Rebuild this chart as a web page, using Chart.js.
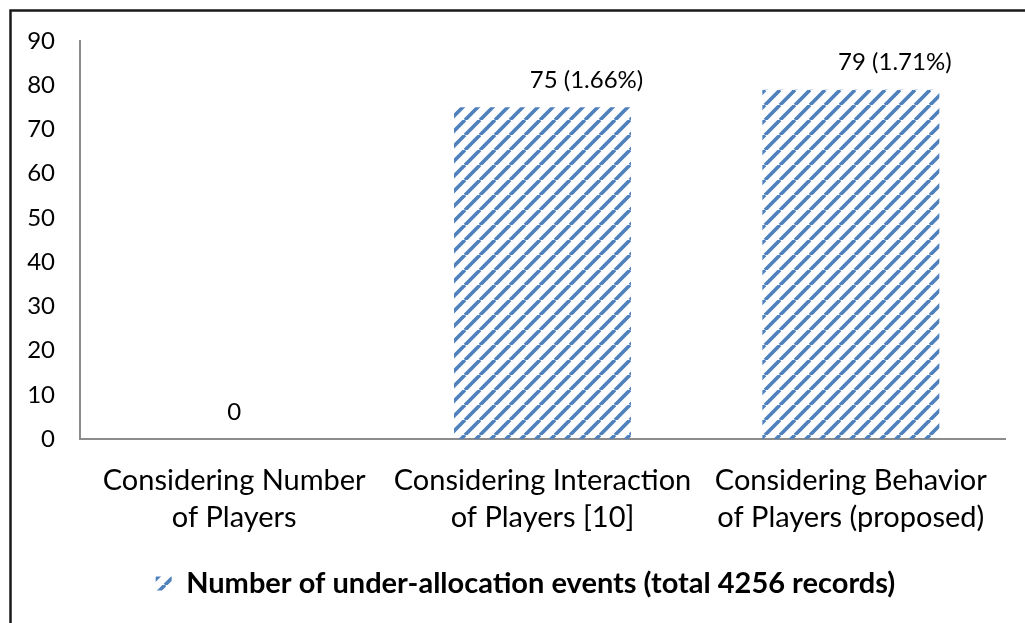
<!DOCTYPE html>
<html>
<head>
<meta charset="utf-8">
<script src="https://cdn.jsdelivr.net/npm/chart.js@4.4.1/dist/chart.umd.min.js"></script>
<style>
  html, body { margin: 0; padding: 0; background: #ffffff; overflow: hidden; }
  canvas { display: block; }
</style>
</head>
<body>
<canvas id="chart" width="1025" height="623"></canvas>
<script>
// Categories (two-line axis labels)
const categories = [
  ["Considering Number", "of Players"],
  ["Considering Interaction", "of Players [10]"],
  ["Considering Behavior", "of Players (proposed)"]
];
// Under-allocation event counts per approach
const eventCounts = [0, 75, 79];
// Share of all records, in percent (none shown for a zero count)
const eventShares = [null, 1.66, 1.71];
const seriesName = "Number of under-allocation events (total 4256 records)";
// Value axis range
const yMin = 0;
const yMax = 90;
const yStep = 10;

const FONT = "Lato, 'Open Sans', sans-serif";
const BAR_BLUE = "#4F81BD";

// Diagonal hatch fill for the bars
function makeHatch(color) {
  const s = 15;
  const tile = document.createElement("canvas");
  tile.width = s; tile.height = s;
  const g = tile.getContext("2d");
  g.strokeStyle = color;
  g.lineWidth = 3.7;
  g.beginPath();
  for (let k = -1; k <= 1; k++) {
    g.moveTo(k * s, s);
    g.lineTo(k * s + s, 0);
  }
  g.stroke();
  return g.createPattern(tile, "repeat");
}

// Thin dark frame along the top and left edges
const framePlugin = {
  id: "frame",
  beforeDraw(chart) {
    const ctx = chart.ctx;
    ctx.save();
    ctx.strokeStyle = "#1a1a1a";
    ctx.lineWidth = 2.5;
    ctx.beginPath();
    ctx.moveTo(10.5, chart.height);
    ctx.lineTo(10.5, 10.5);
    ctx.lineTo(chart.width, 10.5);
    ctx.stroke();
    ctx.restore();
  }
};

// Value labels above each bar
const valueLabels = {
  id: "valueLabels",
  afterDatasetsDraw(chart) {
    const ctx = chart.ctx;
    const meta = chart.getDatasetMeta(0);
    ctx.save();
    ctx.font = "24px " + FONT;
    ctx.fillStyle = "#000";
    ctx.textAlign = "center";
    ctx.textBaseline = "middle";
    meta.data.forEach((bar, i) => {
      const v = eventCounts[i];
      const share = eventShares[i];
      const text = share == null ? String(v) : v + " (" + share.toFixed(2) + "%)";
      const dx = share == null ? 0 : 44;
      ctx.fillText(text, bar.x + dx, bar.y - 27);
    });
    ctx.restore();
  }
};

// Nudge the legend to the right
const legendShift = {
  id: "legendShift",
  afterLayout(chart) {
    if (chart.legend) {
      chart.legend.left += 23;
      chart.legend.right += 23;
    }
  }
};

const ctx = document.getElementById("chart").getContext("2d");
new Chart(ctx, {
  type: "bar",
  data: {
    labels: categories,
    datasets: [{
      label: seriesName,
      data: eventCounts,
      backgroundColor: makeHatch(BAR_BLUE),
      borderWidth: 0,
      barPercentage: 0.574,
      categoryPercentage: 1.0
    }]
  },
  options: {
    responsive: false,
    animation: false,
    devicePixelRatio: 1,
    layout: { padding: { left: 0, right: 20, top: 41, bottom: 15 } },
    plugins: {
      tooltip: { enabled: false },
      legend: {
        display: true,
        position: "bottom",
        labels: {
          boxWidth: 16,
          boxHeight: 14,
          padding: 18,
          color: "#000",
          font: { family: FONT, size: 29, weight: "bold" }
        }
      }
    },
    scales: {
      x: {
        grid: { display: false, drawTicks: false },
        border: { display: true, color: "#8c8c8c", width: 2 },
        ticks: {
          color: "#000",
          padding: 23,
          maxRotation: 0,
          autoSkip: false,
          font: { family: FONT, size: 29, lineHeight: 1.28 }
        },
        afterFit(scale) { scale.height = 112; }
      },
      y: {
        min: yMin,
        max: yMax,
        grid: { display: false, drawTicks: false },
        border: { display: true, color: "#8c8c8c", width: 2 },
        ticks: {
          stepSize: yStep,
          color: "#000",
          padding: 25,
          font: { family: FONT, size: 24 }
        },
        afterFit(scale) { scale.width = 80; }
      }
    }
  },
  plugins: [framePlugin, valueLabels, legendShift]
});
</script>
</body>
</html>
